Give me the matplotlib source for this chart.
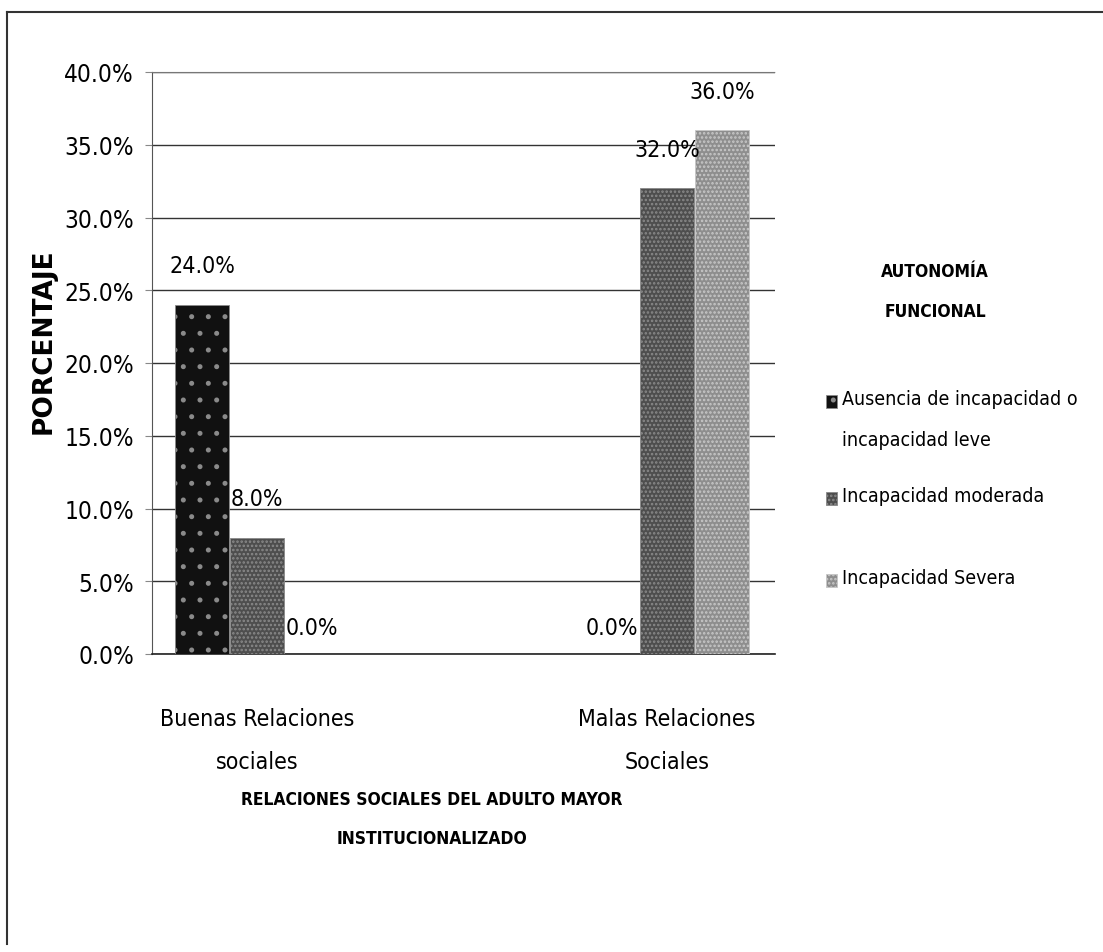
import matplotlib
matplotlib.use("Agg")
import matplotlib.pyplot as plt
from matplotlib import font_manager as fm
from matplotlib.lines import Line2D
from matplotlib.patches import Rectangle
import numpy as np

categorias = ["Buenas Relaciones\nsociales", "Malas Relaciones\nSociales"]
series = ["Ausencia de incapacidad o\nincapacidad leve",
          "Incapacidad moderada",
          "Incapacidad Severa"]
ausencia = [24.0, 0.0]
moderada = [8.0, 32.0]
severa = [0.0, 36.0]
valores = [ausencia, moderada, severa]
yticks = [0, 5, 10, 15, 20, 25, 30, 35, 40]

# buscar una fuente estrecha parecida a Calibri
condensadas = [f for f in fm.fontManager.ttflist
               if f.name == "DejaVu Sans" and f.stretch == "condensed"]
nombres = {f.name for f in fm.fontManager.ttflist}
if "Liberation Sans Narrow" in nombres:
    fam, estir, k = "Liberation Sans Narrow", "normal", 1.0
elif condensadas:
    fam, estir, k = "DejaVu Sans", "condensed", 0.92
else:
    fam, estir, k = "Liberation Sans", "normal", 0.8

plt.rcParams["font.family"] = [fam, "DejaVu Sans"]
plt.rcParams["font.stretch"] = estir
plt.rcParams["hatch.linewidth"] = 1.2

W, H = 1103, 953
fig = plt.figure(figsize=(W / 100, H / 100), dpi=100)
ax = fig.add_axes([152 / W, 1 - 655 / H, 623 / W, 582 / H])

caras = ["#111111", "#4e4e4e", "#8e8e8e"]
tramas = ["#8a8a8a", "#8a8a8a", "#c8c8c8"]
hatches = [".", "....", "...."]
desp = [-0.134, 0.0, 0.134]
ancho = 0.13
x = np.arange(len(categorias))

for i in range(3):
    barras = ax.bar(x + desp[i], valores[i], ancho, color=caras[i],
                    edgecolor=tramas[i], hatch=hatches[i], linewidth=0.6,
                    label=series[i], zorder=3)
    for b, v in zip(barras, valores[i]):
        off = 28 if v > 0 else 19
        ax.annotate(f"{v:.1f}%", (b.get_x() + b.get_width() / 2, v),
                    xytext=(0, off), textcoords="offset points",
                    ha="center", va="center", fontsize=18 * k, zorder=5)

ax.set_xlim(-0.256, 1.263)
ax.set_ylim(0, 40)
ax.set_yticks(yticks)
ax.set_yticklabels([f"{t:.1f}%" for t in yticks], fontsize=19 * k)
ax.set_xticks(x)
ax.set_xticklabels(categorias, fontsize=18 * k, linespacing=2.1)
ax.tick_params(axis="x", length=0, pad=38)
ax.tick_params(axis="y", length=5, pad=8, color="#888888")
ax.yaxis.grid(True, color="#333333", linewidth=1.0, zorder=0)
ax.spines["right"].set_visible(False)
ax.spines["top"].set_linestyle((0, (2, 1)))
ax.spines["top"].set_color("#777777")
ax.spines["left"].set_color("#555555")
ax.spines["bottom"].set_color("#222222")
ax.spines["bottom"].set_linewidth(1.2)

ax.set_ylabel("PORCENTAJE", fontsize=19, fontweight="bold",
              family="DejaVu Sans", stretch="normal")
ax.yaxis.set_label_coords(-0.153, 0.54)

fig.text(432 / W, 1 - 820 / H,
         "RELACIONES SOCIALES DEL ADULTO MAYOR\nINSTITUCIONALIZADO",
         ha="center", va="center", fontsize=12.5, fontweight="bold",
         linespacing=2.5)

# leyenda dibujada a mano para respetar los espacios del original
fig.text(935 / W, 1 - 292 / H, "AUTONOMÍA\nFUNCIONAL", ha="center",
         va="center", fontsize=12.5, fontweight="bold", linespacing=2.6)
filas = [403, 500, 582]
for i, yy in enumerate(filas):
    fig.add_artist(Rectangle((826 / W, 1 - (yy + 6) / H), 11 / W, 13 / H,
                             facecolor=caras[i], edgecolor=tramas[i],
                             hatch=hatches[i], linewidth=0.6,
                             transform=fig.transFigure))
    fig.text(842 / W, 1 - (yy - 13) / H, series[i], ha="left", va="top",
             fontsize=14, linespacing=2.45)

# marco exterior
fig.add_artist(Line2D([7 / W, 1], [1 - 13 / H, 1 - 13 / H],
                      color="#333333", linewidth=1.5))
fig.add_artist(Line2D([7 / W, 7 / W], [1 - 13 / H, 1 - 945 / H],
                      color="#333333", linewidth=1.5))

fig.savefig("out.png", dpi=100)
